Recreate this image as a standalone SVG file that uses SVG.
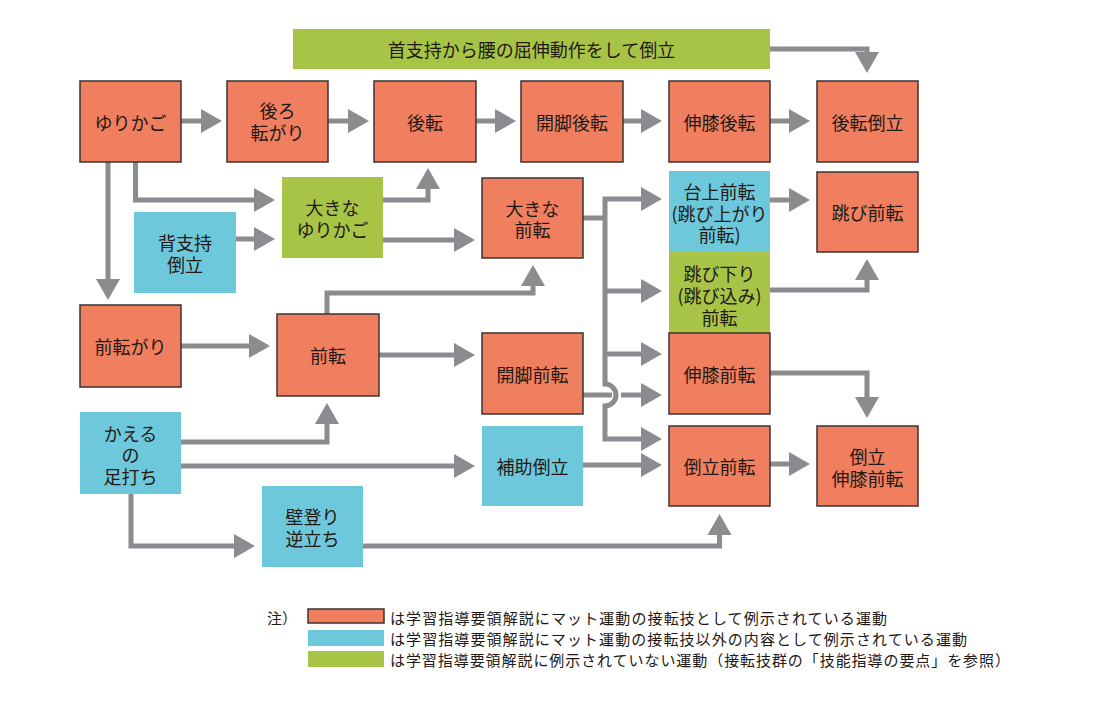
<svg xmlns="http://www.w3.org/2000/svg" width="1104" height="712" viewBox="0 0 1104 712">
<style>
.o{fill:#EF7F5E;stroke:#3a3433;stroke-width:1.5}
.b{fill:#6CC8DA}
.g{fill:#A8C447}
.t{font-family:"Noto Sans CJK JP","Noto Sans CJK SC",sans-serif;font-size:18px;fill:#231815;text-anchor:middle;dominant-baseline:central}
.l{font-family:"Noto Sans CJK JP","Noto Sans CJK SC",sans-serif;font-size:15px;fill:#231815;dominant-baseline:central}
.c{fill:none;stroke:#8A8C8F;stroke-width:5;stroke-linejoin:miter}
.a{marker-end:url(#ah)}
</style>
<defs>
<marker id="ah" markerUnits="userSpaceOnUse" markerWidth="21" markerHeight="24" refX="0" refY="12" orient="auto-start-reverse" viewBox="0 0 21 24" overflow="visible">
<path d="M0,0 L21,12 L0,24 Z" fill="#8A8C8F"/>
</marker>
</defs>
<rect width="1104" height="712" fill="#ffffff"/>

<g id="connectors">
<path class="c a" d="M181,121 H201"/>
<path class="c a" d="M328,121 H348"/>
<path class="c a" d="M476,121 H495"/>
<path class="c a" d="M623,121 H641"/>
<path class="c a" d="M770,121 H789"/>
<path class="c a" d="M770,49 H867 V52"/>
<path class="c a" d="M108,162 V279"/>
<path class="c a" d="M135.5,162 V200 H254"/>
<path class="c a" d="M236,239 H254"/>
<path class="c a" d="M383,200 H428 V189"/>
<path class="c a" d="M383,240 H454"/>
<path class="c" d="M583,218 H605"/>
<path class="c a" d="M641,199 H605 V384 A11,11 0 0 1 605,406 V439 H641" marker-start="url(#ah)"/>
<path class="c a" d="M605,291 H641"/>
<path class="c a" d="M605,354 H641"/>
<path class="c" d="M583,395 H612"/>
<path class="c a" d="M621,395 H641"/>
<path class="c a" d="M770,200 H789"/>
<path class="c a" d="M770,290 H867 V280"/>
<path class="c a" d="M181,346 H249"/>
<path class="c a" d="M327,314 V293 H533 V286"/>
<path class="c a" d="M379,355 H454"/>
<path class="c a" d="M770,373 H867 V397"/>
<path class="c a" d="M181,442 H327 V424"/>
<path class="c a" d="M181,466 H454"/>
<path class="c a" d="M131,494 V546 H234"/>
<path class="c a" d="M363,546 H719.5 V535"/>
<path class="c a" d="M583,465 H641"/>
<path class="c a" d="M770,464 H789"/>
</g>

<g id="banner"><rect class="g" x="293" y="29" width="477" height="40"/><text class="t" x="531.5" y="49">首支持から腰の屈伸動作をして倒立</text></g>

<g id="n-yurikago"><rect class="o" x="80" y="81" width="101" height="81"/><text class="t" x="130.5" y="121.5">ゆりかご</text></g>
<g id="n-ushirokorogari"><rect class="o" x="227" y="81" width="101" height="81"/><text class="t" x="277.5" y="110">後ろ<tspan x="277.5" dy="22">転がり</tspan></text></g>
<g id="n-kouten"><rect class="o" x="374" y="81" width="102" height="81"/><text class="t" x="425" y="121.5">後転</text></g>
<g id="n-kaikyakukouten"><rect class="o" x="521" y="81" width="102" height="81"/><text class="t" x="572" y="121.5">開脚後転</text></g>
<g id="n-shinshitsukouten"><rect class="o" x="669" y="81" width="101" height="81"/><text class="t" x="719.5" y="121.5">伸膝後転</text></g>
<g id="n-koutentouritsu"><rect class="o" x="817" y="81" width="101" height="81"/><text class="t" x="867.5" y="121.5">後転倒立</text></g>

<g id="n-ookinayurikago"><rect class="g" x="282" y="177" width="101" height="81"/><text class="t" x="332.5" y="207">大きな<tspan x="332.5" dy="22">ゆりかご</tspan></text></g>
<g id="n-haishiji"><rect class="b" x="134" y="212" width="102" height="81"/><text class="t" x="185" y="242">背支持<tspan x="185" dy="22">倒立</tspan></text></g>
<g id="n-ookinazenten"><rect class="o" x="482" y="178" width="101" height="80"/><text class="t" x="532.5" y="208">大きな<tspan x="532.5" dy="21">前転</tspan></text></g>
<g id="n-daijouzenten"><rect class="b" x="669" y="171" width="101" height="81"/><text class="t" x="719.5" y="191">台上前転<tspan x="719.5" dy="22">(跳び上がり</tspan><tspan x="719.5" dy="21">前転)</tspan></text></g>
<g id="n-tobiori"><rect class="g" x="669" y="252" width="101" height="81"/><text class="t" x="719.5" y="273">跳び下り<tspan x="719.5" dy="22">(跳び込み)</tspan><tspan x="719.5" dy="22">前転</tspan></text></g>
<g id="n-tobizenten"><rect class="o" x="817" y="172" width="101" height="80"/><text class="t" x="867.5" y="212">跳び前転</text></g>

<g id="n-zentengari"><rect class="o" x="80" y="305" width="101" height="82"/><text class="t" x="130.5" y="346">前転がり</text></g>
<g id="n-zenten"><rect class="o" x="277" y="314" width="102" height="82"/><text class="t" x="328" y="355">前転</text></g>
<g id="n-kaikyakuzenten"><rect class="o" x="482" y="333" width="101" height="81"/><text class="t" x="532.5" y="374">開脚前転</text></g>
<g id="n-shinshitsuzenten"><rect class="o" x="669" y="333" width="101" height="81"/><text class="t" x="719.5" y="374">伸膝前転</text></g>

<g id="n-kaeru"><rect class="b" x="80" y="412" width="101" height="82"/><text class="t" x="130.5" y="433">かえる<tspan x="130.5" dy="21">の</tspan><tspan x="130.5" dy="22">足打ち</tspan></text></g>
<g id="n-hojotouritsu"><rect class="b" x="482" y="426" width="101" height="80"/><text class="t" x="532.5" y="466">補助倒立</text></g>
<g id="n-touritsuzenten"><rect class="o" x="669" y="426" width="101" height="80"/><text class="t" x="719.5" y="466">倒立前転</text></g>
<g id="n-touritsushinshitsu"><rect class="o" x="817" y="426" width="101" height="80"/><text class="t" x="867.5" y="456">倒立<tspan x="867.5" dy="22">伸膝前転</tspan></text></g>
<g id="n-kabenobori"><rect class="b" x="262" y="486" width="101" height="81"/><text class="t" x="312.5" y="516">壁登り<tspan x="312.5" dy="22">逆立ち</tspan></text></g>

<g id="legend">
<text class="l" x="267" y="617">注）</text>
<rect class="o" x="308" y="609" width="76" height="14"/>
<rect class="b" x="308" y="630" width="76" height="16"/>
<rect class="g" x="308" y="651" width="76" height="16"/>
<text class="l" x="390" y="617" textLength="497" lengthAdjust="spacing">は学習指導要領解説にマット運動の接転技として例示されている運動</text>
<text class="l" x="390" y="638" textLength="577" lengthAdjust="spacing">は学習指導要領解説にマット運動の接転技以外の内容として例示されている運動</text>
<text class="l" x="390" y="659" textLength="620" lengthAdjust="spacing">は学習指導要領解説に例示されていない運動（接転技群の「技能指導の要点」を参照）</text>
</g>
</svg>
